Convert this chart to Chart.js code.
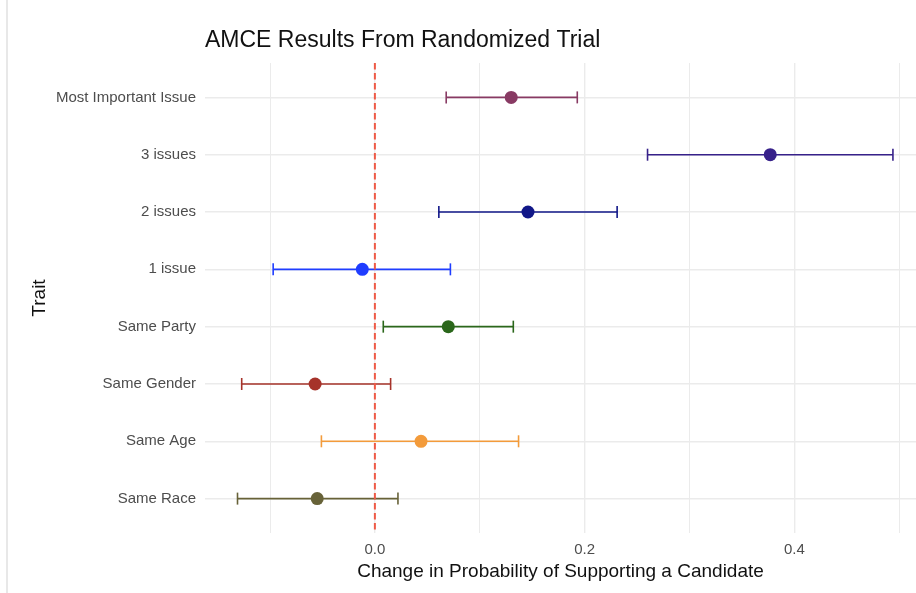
<!DOCTYPE html>
<html>
<head>
<meta charset="utf-8">
<script src="https://cdn.jsdelivr.net/npm/chart.js@4.4.1/dist/chart.umd.min.js"></script>
<style>
    html, body { margin: 0; padding: 0; background: #fff; }
    #wrap { position: relative; width: 916px; height: 593px; }
    #edge { position: absolute; left: 6px; top: 0; width: 2px; height: 593px; background: #e8e8e8; }
    canvas { position: absolute; left: 0; top: 0; }
</style>
</head>
<body>
<div id="wrap">
    <div id="edge"></div>
    <canvas id="myChart" width="916" height="593"></canvas>
</div>
<script>
// traits, top to bottom
var traits = ['Most Important Issue', '3 issues', '2 issues', '1 issue', 'Same Party', 'Same Gender', 'Same Age', 'Same Race']
var estimates = [0.130, 0.377, 0.146, -0.012, 0.070, -0.057, 0.044, -0.055]
var lower = [0.068, 0.260, 0.061, -0.097, 0.008, -0.127, -0.051, -0.131]
var upper = [0.193, 0.494, 0.231, 0.072, 0.132, 0.015, 0.137, 0.022]
var colors = ['#883a63', '#37218a', '#111788', '#1f3dff', '#2b671b', '#a6332a', '#f39b3b', '#676238']
var xTicks = [-0.1, 0, 0.1, 0.2, 0.3, 0.4, 0.5]
var xLabelTicks = [0, 0.2, 0.4]

var title = 'AMCE Results From Randomized Trial'
var xTitle = 'Change in Probability of Supporting a Candidate'
var yTitle = 'Trait'

var fontFamily = "'Liberation Sans', Arial, Helvetica, sans-serif"

/** 数据集 */
var datasets = []
// 点
datasets.push({
    type: 'scatter',
    data: estimates.map(function (v, i) { return { x: v, y: i + 1 } }),
    pointRadius: 6.5,
    pointBackgroundColor: colors,
    pointBorderWidth: 0,
    pointHoverRadius: 6.5
})
// 0 参考线
datasets.push({
    type: 'line',
    data: [{ x: 0, y: 0.4 }, { x: 0, y: 8.6 }],
    borderColor: '#ee5a46',
    borderWidth: 2,
    borderDash: [6.5, 3.5],
    pointRadius: 0,
    fill: false
})
// 误差线
traits.forEach(function (t, i) {
    datasets.push({
        type: 'line',
        data: [{ x: lower[i], y: i + 1 }, { x: upper[i], y: i + 1 }],
        borderColor: colors[i],
        borderWidth: 1.6,
        pointStyle: 'line',
        pointRotation: 90,
        pointRadius: 6,
        pointBorderWidth: 1.6,
        pointBorderColor: colors[i],
        pointHoverRadius: 6,
        fill: false
    })
})

var titlePlugin = {
    id: 'leftTitle',
    afterDraw: function (chart) {
        var c = chart.ctx
        c.save()
        c.fillStyle = '#111'
        c.font = '23px ' + fontFamily
        c.textAlign = 'left'
        c.textBaseline = 'middle'
        c.fillText(title, chart.chartArea.left, 41)
        c.restore()
    }
}

var ctx = document.getElementById('myChart').getContext('2d')
var myChart = new Chart(ctx, {
    type: 'scatter',
    data: { datasets: datasets },
    plugins: [titlePlugin],
    options: {
        responsive: false,
        animation: false,
        layout: { autoPadding: false, padding: { top: 63, left: 24, right: 0, bottom: 10 } },
        plugins: {
            legend: { display: false },
            tooltip: { enabled: false },
            title: { display: false }
        },
        scales: {
            x: {
                type: 'linear',
                min: -0.162,
                max: 0.516,
                afterBuildTicks: function (scale) {
                    scale.ticks = xTicks.map(function (v) { return { value: v } })
                },
                afterFit: function (scale) {
                    scale.height = 50
                },
                ticks: {
                    padding: 9.5,
                    color: '#4d4d4d',
                    font: { family: fontFamily, size: 15, lineHeight: 1 },
                    maxRotation: 0,
                    autoSkip: false,
                    callback: function (v) {
                        return xLabelTicks.indexOf(Math.round(v * 10) / 10) >= 0 ? v.toFixed(1) : ''
                    }
                },
                grid: {
                    drawTicks: false,
                    color: '#ebebeb',
                    lineWidth: function (c) {
                        var v = Math.round(c.tick.value * 10) / 10
                        return xLabelTicks.indexOf(v) >= 0 ? 1.4 : 1
                    }
                },
                border: { display: false },
                title: {
                    display: true,
                    text: xTitle,
                    color: '#111',
                    font: { family: fontFamily, size: 19 },
                    padding: { top: 3, bottom: 0 }
                }
            },
            y: {
                type: 'linear',
                reverse: true,
                min: 0.4,
                max: 8.6,
                afterBuildTicks: function (scale) {
                    scale.ticks = traits.map(function (t, i) { return { value: i + 1 } })
                },
                afterFit: function (scale) {
                    scale.width = 181
                },
                ticks: {
                    padding: 9,
                    color: '#4d4d4d',
                    font: { family: fontFamily, size: 15 },
                    autoSkip: false,
                    callback: function (v) { return traits[v - 1] || '' }
                },
                grid: {
                    drawTicks: false,
                    color: '#ebebeb',
                    lineWidth: 1.4
                },
                border: { display: false },
                title: {
                    display: true,
                    text: yTitle,
                    color: '#111',
                    font: { family: fontFamily, size: 19 },
                    padding: { top: 4, bottom: 0 }
                }
            }
        }
    }
})
</script>
</body>
</html>
